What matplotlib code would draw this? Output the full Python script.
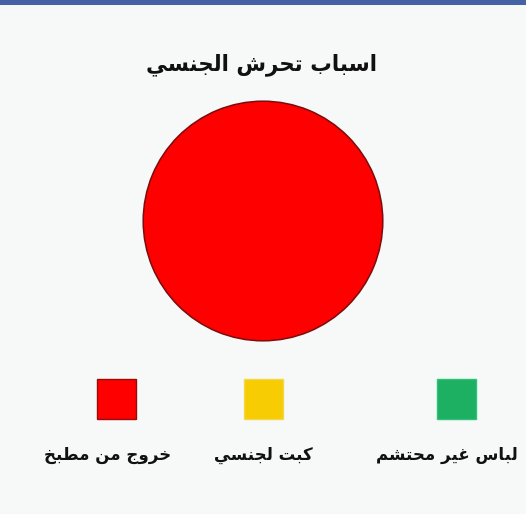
import matplotlib

matplotlib.use("Agg")

import matplotlib.pyplot as plt
from matplotlib.patches import Rectangle

# data
title = "اسباب تحرش الجنسي"
categories = ["خروج من مطبخ", "كبت لجنسي", "لباس غير محتشم"]
shares = [100, 0, 0]
colors = ["#fe0000", "#f8cc02", "#1daf62"]
edge_colors = ["#9a0a0a", "#f2d84a", "#2ec27a"]

# Arabic contextual forms: isolated, final, initial, medial (None = right-joining only)
FORMS = {
    "ا": (0xFE8D, 0xFE8E, None, None),
    "ب": (0xFE8F, 0xFE90, 0xFE91, 0xFE92),
    "ت": (0xFE95, 0xFE96, 0xFE97, 0xFE98),
    "ج": (0xFE9D, 0xFE9E, 0xFE9F, 0xFEA0),
    "ح": (0xFEA1, 0xFEA2, 0xFEA3, 0xFEA4),
    "خ": (0xFEA5, 0xFEA6, 0xFEA7, 0xFEA8),
    "ر": (0xFEAD, 0xFEAE, None, None),
    "س": (0xFEB1, 0xFEB2, 0xFEB3, 0xFEB4),
    "ش": (0xFEB5, 0xFEB6, 0xFEB7, 0xFEB8),
    "ط": (0xFEC1, 0xFEC2, 0xFEC3, 0xFEC4),
    "غ": (0xFECD, 0xFECE, 0xFECF, 0xFED0),
    "ك": (0xFED9, 0xFEDA, 0xFEDB, 0xFEDC),
    "ل": (0xFEDD, 0xFEDE, 0xFEDF, 0xFEE0),
    "م": (0xFEE1, 0xFEE2, 0xFEE3, 0xFEE4),
    "ن": (0xFEE5, 0xFEE6, 0xFEE7, 0xFEE8),
    "و": (0xFEED, 0xFEEE, None, None),
    "ي": (0xFEF1, 0xFEF2, 0xFEF3, 0xFEF4),
}


def shape(text):
    """Pick joined letter forms and reverse for left-to-right drawing."""
    out = []
    for i, ch in enumerate(text):
        forms = FORMS.get(ch)
        if forms is None:
            out.append(ch)
            continue
        prev = text[i - 1] if i > 0 else ""
        nxt = text[i + 1] if i + 1 < len(text) else ""
        joins_prev = prev in FORMS and FORMS[prev][2] is not None
        joins_next = forms[2] is not None and nxt in FORMS
        if joins_prev and joins_next:
            idx = 3
        elif joins_prev:
            idx = 1
        elif joins_next:
            idx = 2
        else:
            idx = 0
        out.append(chr(forms[idx]))
    return "".join(reversed(out))


W, H = 526, 514
BG = "#f7f8f8"

fig = plt.figure(figsize=(W / 100, H / 100), dpi=100, facecolor=BG)

# overlay in pixel coords for title, bar and legend
ov = fig.add_axes([0, 0, 1, 1])
ov.set_xlim(0, W)
ov.set_ylim(H, 0)
ov.set_axis_off()
ov.add_patch(Rectangle((0, 0), W, 4.5, color="#4563a4", lw=0))

ov.text(262, 65, shape(title), ha="center", va="center",
        fontsize=15.5, fontweight="bold", color="#111111", family="DejaVu Sans")

# pie
cx, cy, r = 263, 221, 121
ax = fig.add_axes([(cx - r) / W, (H - cy - r) / H, 2 * r / W, 2 * r / H])
wedges, _ = ax.pie(shares, colors=colors, startangle=90, counterclock=False,
                   wedgeprops=dict(edgecolor="#7a0d0d", linewidth=1.1))
for w, s in zip(wedges, shares):
    if s == 0:
        w.set_visible(False)
ax.set_xlim(-1.01, 1.01)
ax.set_ylim(-1.01, 1.01)
ax.set_axis_off()

# legend
box_x = [116.5, 263, 456.5]
label_x = [107.5, 263, 447]
for bx, lx, name, c, ec in zip(box_x, label_x, categories, colors, edge_colors):
    ov.add_patch(Rectangle((bx - 19.5, 379), 39, 40, facecolor=c, edgecolor=ec, lw=1))
    ov.text(lx, 455, shape(name), ha="center", va="center",
            fontsize=12, fontweight="bold", color="#111111", family="DejaVu Sans")

fig.savefig("out.png", dpi=100, facecolor=BG)
